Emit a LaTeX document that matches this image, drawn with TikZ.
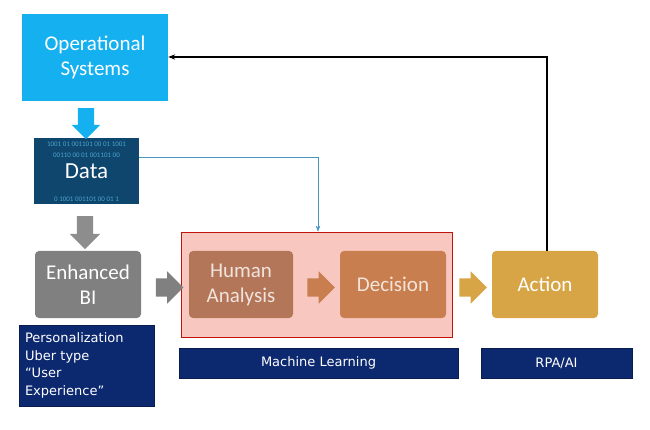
\documentclass[tikz,border=0pt]{standalone}
\usepackage{fontspec}
\setmainfont{Carlito}
\newfontfamily\labelfont{DejaVu Sans}
\usetikzlibrary{positioning, calc, shapes.arrows, arrows.meta}
\definecolor{opblue}{RGB}{20,176,240}
\definecolor{databg}{RGB}{14,70,110}
\definecolor{biGray}{RGB}{128,128,128}
\definecolor{mlPink}{RGB}{248,200,192}
\definecolor{mlRed}{RGB}{192,20,10}
\definecolor{haBrown}{RGB}{180,118,88}
\definecolor{decOrange}{RGB}{200,126,78}
\definecolor{actGold}{RGB}{216,165,70}
\definecolor{navy}{RGB}{12,40,110}
\definecolor{linkTeal}{RGB}{70,150,190}
\tikzset{
  Box/.style = {minimum width=106pt, minimum height=67pt, rounded corners=4pt,
    text=white, font=\fontsize{21}{25}\selectfont, align=center, inner sep=0pt},
  Tag/.style = {fill=navy, draw=navy!70!black, text=white, inner sep=0pt,
    font=\labelfont\fontsize{13}{17.5}\selectfont},
  BigArrow/.style = {single arrow, minimum height=24pt, inner sep=9pt,
    single arrow head extend=7pt, draw=none}
}
\begin{document}
\begin{tikzpicture}[x=1pt, y=-1pt]
    \useasboundingbox (0,0) rectangle (650,430);
    % top row
    \node [Box, fill=opblue, rounded corners=0pt, minimum width=146pt, minimum height=87pt] (ops) at (95,57.5) {Operational\\Systems};
    \node [fill=databg, minimum width=105pt, minimum height=66pt, inner sep=0pt] (data) at (86.5,171) {};
    \foreach \r/\t in {0/1001 01 001101 00 01 1001,1/00110 00 01 001101 00,5/0 1001 001101 00 01 1} {
        \node [text=cyan!60, font=\fontsize{7}{8}\selectfont, inner sep=0pt, opacity=0.7] at (86.5,144+\r*11) {\t};
    }
    \node [text=white, font=\fontsize{23}{26}\selectfont] (datalbl) at (data) {Data};
    % middle row
    \node [Box, fill=biGray] (bi) at (88,284.5) {Enhanced\\BI};
    \node [draw=mlRed, thick, fill=mlPink, minimum width=271pt, minimum height=105pt, inner sep=0pt] (ml) at (316.5,284.5) {};
    \node [Box, fill=haBrown, minimum width=104pt, text=white!80!haBrown] (ha) at (241,284.5) {Human\\Analysis};
    \node [Box, fill=decOrange, text=white!80!decOrange] (dec) at (393,284.5) {Decision};
    \node [Box, fill=actGold] (act) at (545,284.5) {Action};
    % block arrows
    \node [BigArrow, fill=opblue, shape border rotate=270, minimum height=31pt, inner sep=8pt, single arrow head extend=6pt] (a1) at (86,119.5) {};
    \node [BigArrow, fill=biGray!90, shape border rotate=270, minimum height=33pt, inner sep=8pt] (a2) at (85,228.5) {};
    \node [BigArrow, fill=biGray] (a3) at (165,287.5) {};
    \node [BigArrow, fill=decOrange] (a4) at (316.5,287.5) {};
    \node [BigArrow, fill=actGold] (a5) at (468.5,287.5) {};
    % tags
    \node [Tag, minimum width=135pt, minimum height=81pt, align=left, text width=123pt] (pers) at (86.5,365.5) {Personalization\\Uber type\\“User\\Experience”};
    \node [Tag, minimum width=279pt, minimum height=30pt] (mltag) at (318.5,363) {Machine Learning};
    \node [Tag, minimum width=151pt, minimum height=30pt] (rpa) at (556.5,363) {RPA/AI};
    % connectors
    \coordinate (up) at (547,57);
    \draw [line width=1.3pt, -{Stealth[length=7pt]}] (act.north -| up) -- (up) -- (ops.east |- up);
    \coordinate (dn) at (318,157);
    \draw [linkTeal, -{Stealth[length=6pt]}] (data.east |- dn) -- (dn) -- (dn |- ml.north);
\end{tikzpicture}
\end{document}
